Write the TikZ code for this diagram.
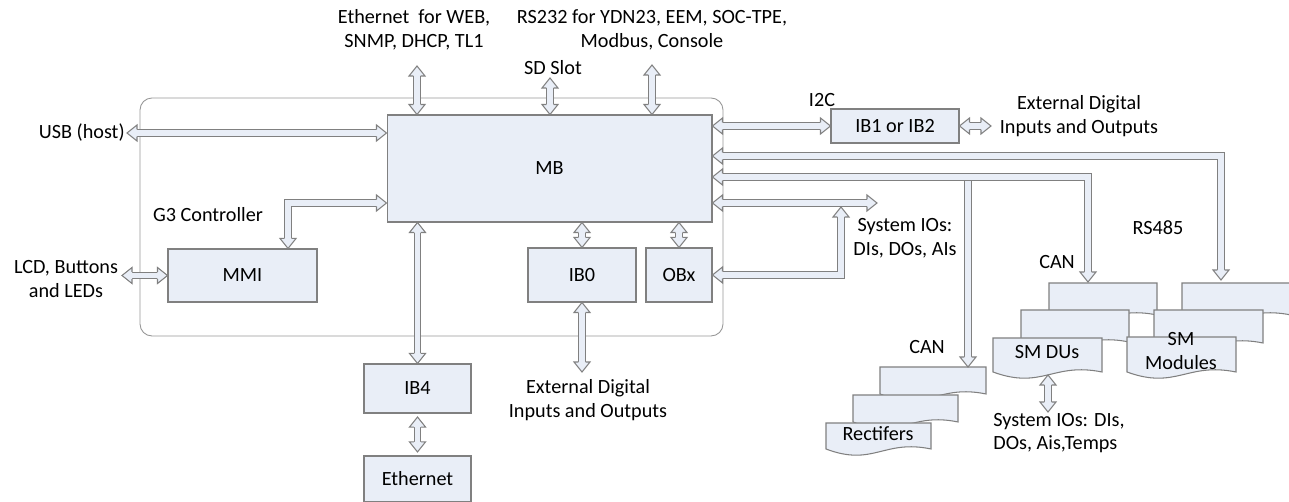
\documentclass[tikz,border=0pt]{standalone}
\usepackage{fontspec}
\setmainfont{Carlito}
\usetikzlibrary{positioning}
\definecolor{boxc}{RGB}{233,238,247}
\definecolor{bordc}{RGB}{128,128,128}
\definecolor{framec}{RGB}{150,150,150}
\newcommand{\lblfont}{\fontsize{11.5}{13.5}\selectfont}
\newcommand{\fattip}[2]{\filldraw[tipline, shift={(#1)}, rotate=#2] (-10,3.6) -- (-10,8) -- (0,0) -- (-10,-8) -- (-10,-3.6);}
\newcommand{\docpage}[4]{\filldraw[page] (#1,#4) -- (#1,#2) -- (#3,#2) -- (#3,#4) .. controls ({#3-0.45*(#3-#1)},{#4-10}) and ({#1+0.45*(#3-#1)},{#4+18}) .. (#1,#4) -- cycle;}
\tikzset{
	unit/.style={draw=bordc, fill=boxc, line width=0.6pt, inner sep=0pt, font=\lblfont},
	lbl/.style={align=center, inner sep=0pt, font=\lblfont},
	page/.style={draw=bordc, fill=boxc, line width=0.6pt},
	frame/.style={draw=framec, line width=0.5pt, rounded corners=0.24cm},
	fat/.style={draw=bordc, line width=0.6pt, double=boxc, double distance=2.9pt, line join=miter},
	fatbeg/.style={shorten <=0.19cm},
	fatend/.style={shorten >=0.19cm},
	tipline/.style={draw=bordc, fill=boxc, line width=0.6pt, line join=miter}
}

\begin{document}
\begin{tikzpicture}[x=0.02cm, y=-0.02cm]
								\useasboundingbox (0,0) rectangle (1289,502);
								\draw[frame] (140,98) rectangle (723,336);
								\node[unit, minimum width=6.5cm, minimum height=2.14cm] (mb) at (549.5,168.5) {MB};
								\node[unit, minimum width=2.98cm, minimum height=1.06cm] (mmi) at (242.5,275.5) {MMI};
								\node[unit, minimum width=2.16cm, minimum height=1.08cm] (ib0) at (582,275) {IB0};
								\node[unit, minimum width=1.32cm, minimum height=1.08cm] (obx) at (679,275) {OBx};
								\node[unit, minimum width=2.14cm, minimum height=0.98cm] (ib4) at (417.5,388.5) {IB4};
								\node[unit, minimum width=2.14cm, minimum height=0.92cm] (eth) at (417.5,479) {Ethernet};
								\node[unit, minimum width=2.56cm, minimum height=0.68cm] (ib1) at (895,126) {IB1 or IB2};
								\docpage{880}{367}{986}{394}
								\docpage{853}{395}{958}{422}
								\docpage{826}{423}{931}{449}
								\docpage{1049}{283}{1157}{315}
								\docpage{1021}{310}{1129}{342}
								\docpage{993}{338}{1102}{372}
								\docpage{1182}{283}{1291}{315}
								\docpage{1154}{310}{1263}{343}
								\docpage{1127}{337}{1236}{372}
								\node[lbl] (rect) at (878,434) {Rectifers};
								\node[lbl] (smdu) at (1047,352) {SM DUs};
								\node[lbl] (smmod) at (1181,351) {SM\\Modules};
								\node[lbl] (ethtxt) at (414,30) {Ethernet~ for WEB,\\SNMP, DHCP, TL1};
								\node[lbl] (rstxt) at (652,30) {RS232 for YDN23, EEM, SOC-TPE,\\Modbus, Console};
								\node[lbl] (sdtxt) at (553,68) {SD Slot};
								\node[lbl, anchor=east] (usbtxt) at (125,133) {USB (host)};
								\node[lbl] (g3txt) at (208,215) {G3 Controller};
								\node[lbl] (lcdtxt) at (66,279) {LCD, Buttons\\and LEDs};
								\node[lbl] (extb) at (588,400) {External Digital\\Inputs and Outputs};
								\node[lbl] (i2c) at (822,100) {I2C};
								\node[lbl] (extr) at (1079,116) {External Digital\\Inputs and Outputs};
								\node[lbl] (siotxt) at (905,238) {System IOs:\\DIs, DOs, AIs};
								\node[lbl] (rs485) at (1158,228) {RS485};
								\node[lbl] (canup) at (1057,262) {CAN};
								\node[lbl] (canlo) at (927,347) {CAN};
								\node[lbl, anchor=west, align=left] (siosm) at (993,433) {System IOs: DIs,\\DOs, Ais,Temps};
								\coordinate (usbend) at (127,133);
								\coordinate (ethtop) at (417,66);
								\coordinate (sdtop) at (550,78);
								\coordinate (rstop) at (652,65);
								\coordinate (g3k) at (288,203);
								\coordinate (lcdend) at (122,275);
								\coordinate (extend) at (582,372);
								\coordinate (extrend) at (991,126);
								\coordinate (rsk) at (1221,156);
								\coordinate (rsend) at (1221,280);
								\coordinate (canj) at (968,177);
								\coordinate (canlow) at (968,367);
								\coordinate (cank) at (1088,177);
								\coordinate (canend) at (1088,282);
								\coordinate (sioend) at (877,203);
								\coordinate (obk) at (841,275);
								\coordinate (obend) at (841,207);
								\coordinate (dutop) at (1048,375);
								\coordinate (dubot) at (1048,412);
								\draw[fat, fatbeg, fatend] (usbend) -- (mb.west |- usbend);
								\fattip{usbend}{180} \fattip{mb.west |- usbend}{0}
								\draw[fat, fatbeg, fatend] (ethtop) -- (mb.north -| ethtop);
								\fattip{ethtop}{90} \fattip{mb.north -| ethtop}{-90}
								\draw[fat, fatbeg, fatend] (sdtop) -- (mb.north -| sdtop);
								\fattip{sdtop}{90} \fattip{mb.north -| sdtop}{-90}
								\draw[fat, fatbeg, fatend] (rstop) -- (mb.north -| rstop);
								\fattip{rstop}{90} \fattip{mb.north -| rstop}{-90}
								\draw[fat, fatbeg, fatend] (mb.west |- g3k) -- (g3k) -- (mmi.north -| g3k);
								\fattip{mb.west |- g3k}{0} \fattip{mmi.north -| g3k}{-90}
								\draw[fat, fatbeg, fatend] (mmi.west -| lcdend) -- (mmi.west);
								\fattip{mmi.west -| lcdend}{180} \fattip{mmi.west}{0}
								\draw[fat, fatbeg, fatend] (ib4.north) -- (ib4.north |- mb.south);
								\fattip{ib4.north}{-90} \fattip{ib4.north |- mb.south}{90}
								\draw[fat, fatbeg, fatend] ([yshift=-2pt]ib4.south) -- ([yshift=2pt]eth.north);
								\fattip{[yshift=-2pt]ib4.south}{90} \fattip{[yshift=2pt]eth.north}{-90}
								\draw[fat, fatbeg, fatend] (ib0.north) -- (ib0.north |- mb.south);
								\fattip{ib0.north}{-90} \fattip{ib0.north |- mb.south}{90}
								\draw[fat, fatbeg, fatend] (obx.north) -- (obx.north |- mb.south);
								\fattip{obx.north}{-90} \fattip{obx.north |- mb.south}{90}
								\draw[fat, fatbeg, fatend] (ib0.south) -- (extend);
								\fattip{ib0.south}{90} \fattip{extend}{-90}
								\draw[fat, fatbeg, fatend] (mb.east |- ib1.west) -- (ib1.west);
								\fattip{mb.east |- ib1.west}{180} \fattip{ib1.west}{0}
								\draw[fat, fatbeg, fatend] (ib1.east) -- (extrend);
								\fattip{ib1.east}{180} \fattip{extrend}{0}
								\draw[fat, fatbeg, fatend] (mb.east |- rsk) -- (rsk) -- (rsend);
								\fattip{mb.east |- rsk}{180} \fattip{rsend}{-90}
								\draw[fat, fatend] (canj) -- (canlow);
								\fattip{canlow}{-90}
								\draw[fat, fatbeg, fatend] (mb.east |- cank) -- (cank) -- (canend);
								\fattip{mb.east |- cank}{180} \fattip{canend}{-90}
								\draw[fat, fatbeg, fatend] (mb.east |- sioend) -- (sioend);
								\fattip{mb.east |- sioend}{180} \fattip{sioend}{0}
								\draw[fat, fatbeg, fatend] (obx.east) -- (obx.east -| obk) -- (obend);
								\fattip{obx.east}{180} \fattip{obend}{90}
								\draw[fat, fatbeg, fatend] (dutop) -- (dubot);
								\fattip{dutop}{90} \fattip{dubot}{-90}
							\end{tikzpicture}
\end{document}
